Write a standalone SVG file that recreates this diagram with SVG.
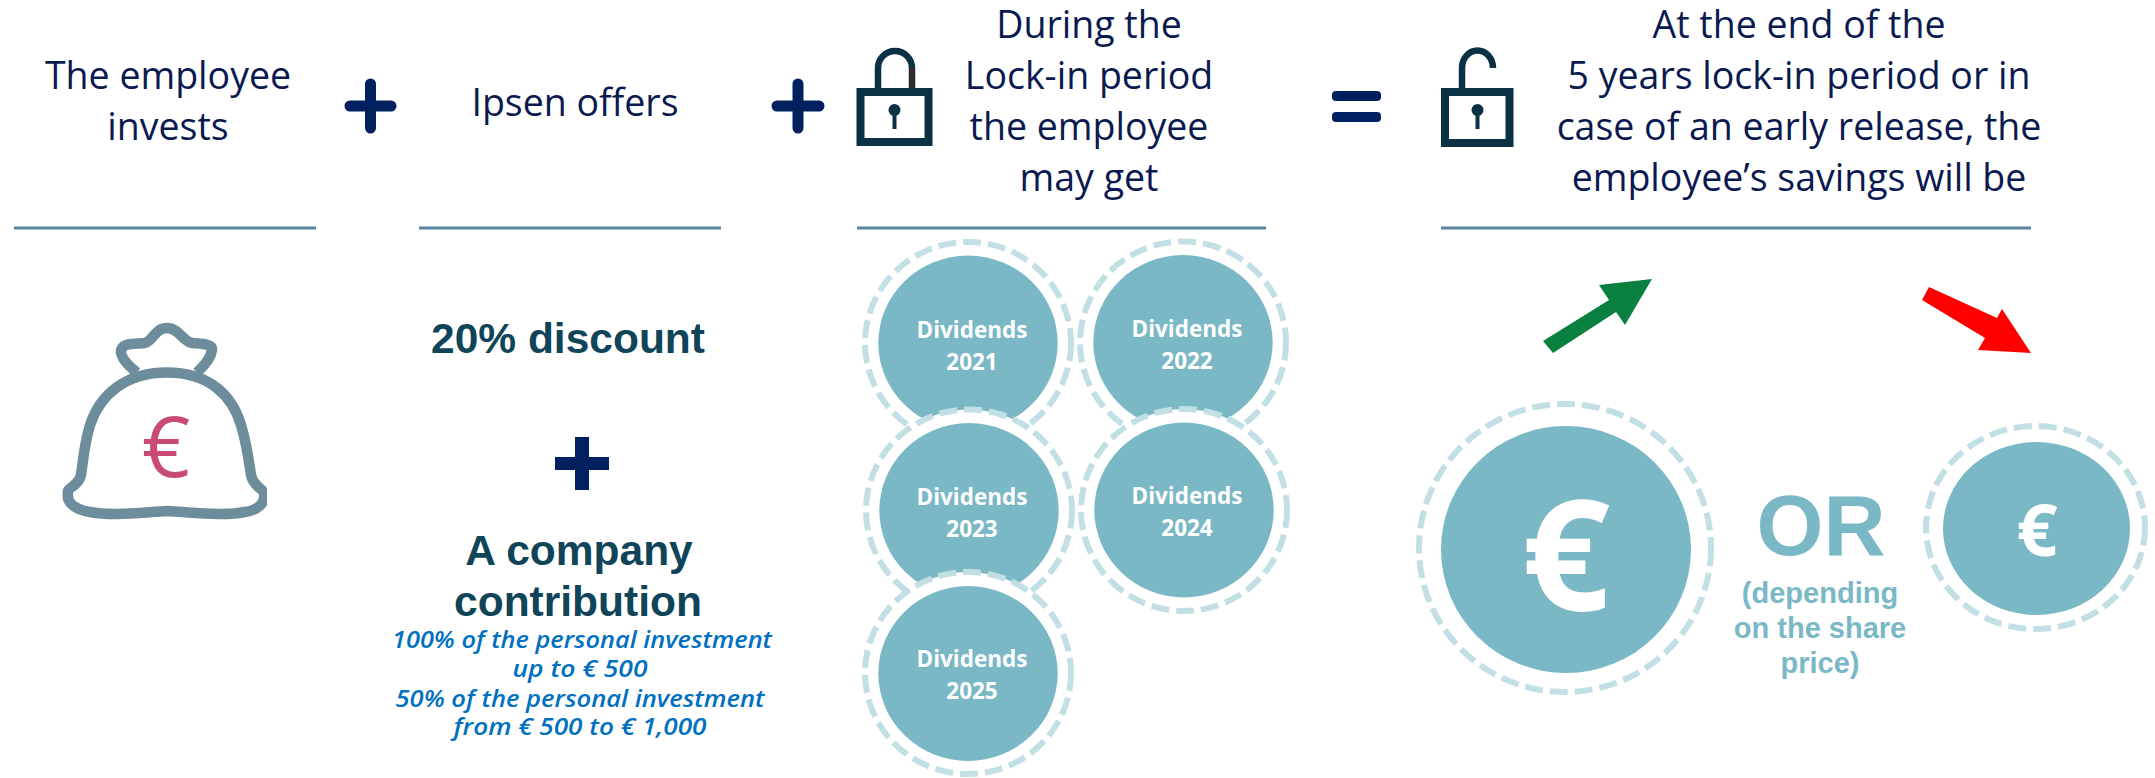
<svg xmlns="http://www.w3.org/2000/svg" width="2155" height="778" viewBox="0 0 2155 778">
<style>
text{text-anchor:middle}
.h{font-family:"Open Sans",sans-serif;font-size:37.500px;fill:#0a1a50}
.b{font-family:"Liberation Sans",Arial,sans-serif;font-weight:700;font-size:42.500px;fill:#0f4459}
.i{font-family:"Open Sans",sans-serif;font-style:italic;font-weight:600;font-size:24px;fill:#0070c0}
.d{font-family:"Open Sans",sans-serif;font-weight:700;font-size:22.500px;fill:#fff}
.o{font-family:"Liberation Sans",Arial,sans-serif;font-weight:700;fill:#7ab8c6}
.e{font-family:"Open Sans",sans-serif;font-weight:700;fill:#fff}
.rule{stroke:#5b84a0;stroke-width:3;fill:none}
.sym{stroke:#00205f;stroke-linecap:round;fill:none}
.ring{fill:#fff;stroke:#c3dfe6;stroke-width:6;stroke-dasharray:18 7}
.disc{fill:#7ab8c6}
.lk{fill:none;stroke:#0b3145}
</style>
<defs><clipPath id="bagclip"><rect x="50" y="310" width="217" height="230"/></clipPath></defs>

<g id="rules">
<path class="rule" d="M14 228H316M419 228H721M857 228H1266M1441 228H2031"/>
</g>

<g id="head-employee"><text class="h" x="168" y="89">The employee</text><text class="h" x="168" y="140">invests</text></g>
<g id="plus-1"><path class="sym" stroke-width="11" d="M370.500 84V128M350 106H391"/></g>
<g id="head-ipsen"><text class="h" x="575" y="116">Ipsen offers</text></g>
<g id="plus-2"><path class="sym" stroke-width="11" d="M798 84V128M777 106H819"/></g>

<g id="lock-closed">
<rect class="lk" x="860.500" y="92" width="68" height="50" stroke-width="8"/>
<path class="lk" stroke-width="6.500" d="M878 90V68A17 17 0 0 1 912 68V90"/>
<path d="M912 67V88" stroke="#3a2a25" stroke-width="4" fill="none"/>
<circle cx="894.500" cy="110" r="6" fill="#0b3145"/><rect x="892.500" y="110" width="4" height="19" fill="#0b3145"/>
</g>
<g id="head-lockin"><text class="h" x="1089" y="38">During the</text><text class="h" x="1089" y="89">Lock-in period</text><text class="h" x="1089" y="140">the employee</text><text class="h" x="1089" y="191">may get</text></g>

<g id="equals"><rect x="1332" y="91" width="49" height="10" rx="4" fill="#00205f"/><rect x="1332" y="112" width="49" height="10" rx="4" fill="#00205f"/></g>

<g id="lock-open">
<rect class="lk" x="1445" y="92" width="64.500" height="51" stroke-width="8"/>
<path class="lk" stroke-width="6.500" d="M1462 90V68A15.500 17.500 0 0 1 1493 68"/>
<circle cx="1477.500" cy="110" r="6" fill="#0b3145"/><rect x="1475.500" y="110" width="4" height="19" fill="#0b3145"/>
</g>
<g id="head-end"><text class="h" x="1799" y="38">At the end of the</text><text class="h" x="1799" y="89">5 years lock-in period or in</text><text class="h" x="1799" y="140">case of an early release, the</text><text class="h" x="1799" y="191">employee’s savings will be</text></g>

<g id="bag">
<g clip-path="url(#bagclip)" fill="none" stroke="#6d8c9c" stroke-width="10.500" stroke-linejoin="round">
<path d="M167 372.500C125 372.500 100 395 90 425C84 445 83 462 81 475C79 486 66 488 68 493C66 503 76 510 90 512C112 516 135 513 167 511C200 513 225 516 245 512C258 510 266 503 264 493C262 488 253 486 251 475C249 462 247 445 241 425C232 395 209 372.500 167 372.500Z"/>
<path d="M137 372.500C126 364 118 354 122 348C125 343 136 344 145 343C153 341 155 328 167 328C179 328 182 341 192 343C203 344 213 344 212 350C211 358 205 365 197 372.500"/>
</g>
<text x="166" y="477" font-family="'Open Sans',sans-serif" font-size="85" fill="#c94a72">€</text>
</g>

<g id="offer">
<text class="b" x="568" y="353">20% discount</text>
<path d="M575 437H589V457H609V470H589V490H575V470H555V457H575Z" fill="#00205f"/>
<text class="b" x="579" y="565">A company</text>
<text class="b" x="578" y="616">contribution</text>
<text class="i" x="582" y="648" textLength="380" lengthAdjust="spacingAndGlyphs">100% of the personal investment</text>
<text class="i" x="580" y="677" textLength="135" lengthAdjust="spacingAndGlyphs">up to € 500</text>
<text class="i" x="580" y="707" textLength="369" lengthAdjust="spacingAndGlyphs">50% of the personal investment</text>
<text class="i" x="580" y="735" textLength="253" lengthAdjust="spacingAndGlyphs">from € 500 to € 1,000</text>
</g>

<g id="div-2021"><ellipse class="ring" cx="968" cy="343" rx="103" ry="101"/><ellipse class="disc" cx="968" cy="343" rx="89.700" ry="87.400"/><text class="d" x="972" y="338">Dividends</text><text class="d" x="972" y="370">2021</text></g>
<g id="div-2022"><ellipse class="ring" cx="1183" cy="342.500" rx="103" ry="101"/><ellipse class="disc" cx="1183" cy="342.500" rx="89.700" ry="87.400"/><text class="d" x="1187" y="337">Dividends</text><text class="d" x="1187" y="369">2022</text></g>
<g id="div-2023"><ellipse class="ring" cx="969" cy="510.500" rx="103" ry="101"/><ellipse class="disc" cx="969" cy="510.500" rx="89.700" ry="87.400"/><text class="d" x="972" y="505">Dividends</text><text class="d" x="972" y="537">2023</text></g>
<g id="div-2024"><ellipse class="ring" cx="1184" cy="510" rx="103" ry="101"/><ellipse class="disc" cx="1184" cy="510" rx="89.700" ry="87.400"/><text class="d" x="1187" y="504">Dividends</text><text class="d" x="1187" y="536">2024</text></g>
<g id="div-2025"><ellipse class="ring" cx="968" cy="673" rx="103" ry="101"/><ellipse class="disc" cx="968" cy="673.500" rx="89.700" ry="87.400"/><text class="d" x="972" y="667">Dividends</text><text class="d" x="972" y="699">2025</text></g>

<g id="connectors">
<polygon fill="#0a8040" points="1543,341 1553,353 1616,312 1625,325 1652,279 1599,285 1609,300"/>
<polygon fill="#ff0000" points="1929,287 1922,300 1985,338 1978,350 2031,353 2002,309 1997,318"/>
</g>

<g id="coin-big"><ellipse class="ring" cx="1565" cy="548" rx="146" ry="144"/><ellipse class="disc" cx="1566" cy="549.500" rx="125" ry="123.500"/><text class="e" x="1566" y="610" font-size="155">€</text></g>
<g id="or"><text class="o" x="1821" y="555" font-size="86">OR</text><text class="o" x="1820" y="603" font-size="29">(depending</text><text class="o" x="1820" y="638" font-size="29">on the share</text><text class="o" x="1820" y="673" font-size="29">price)</text></g>
<g id="coin-small"><ellipse class="ring" cx="2035.500" cy="527.500" rx="109.500" ry="101.500"/><ellipse class="disc" cx="2036.500" cy="528.500" rx="93.500" ry="86.500"/><text class="e" x="2037" y="556" font-size="72">€</text></g>
</svg>
